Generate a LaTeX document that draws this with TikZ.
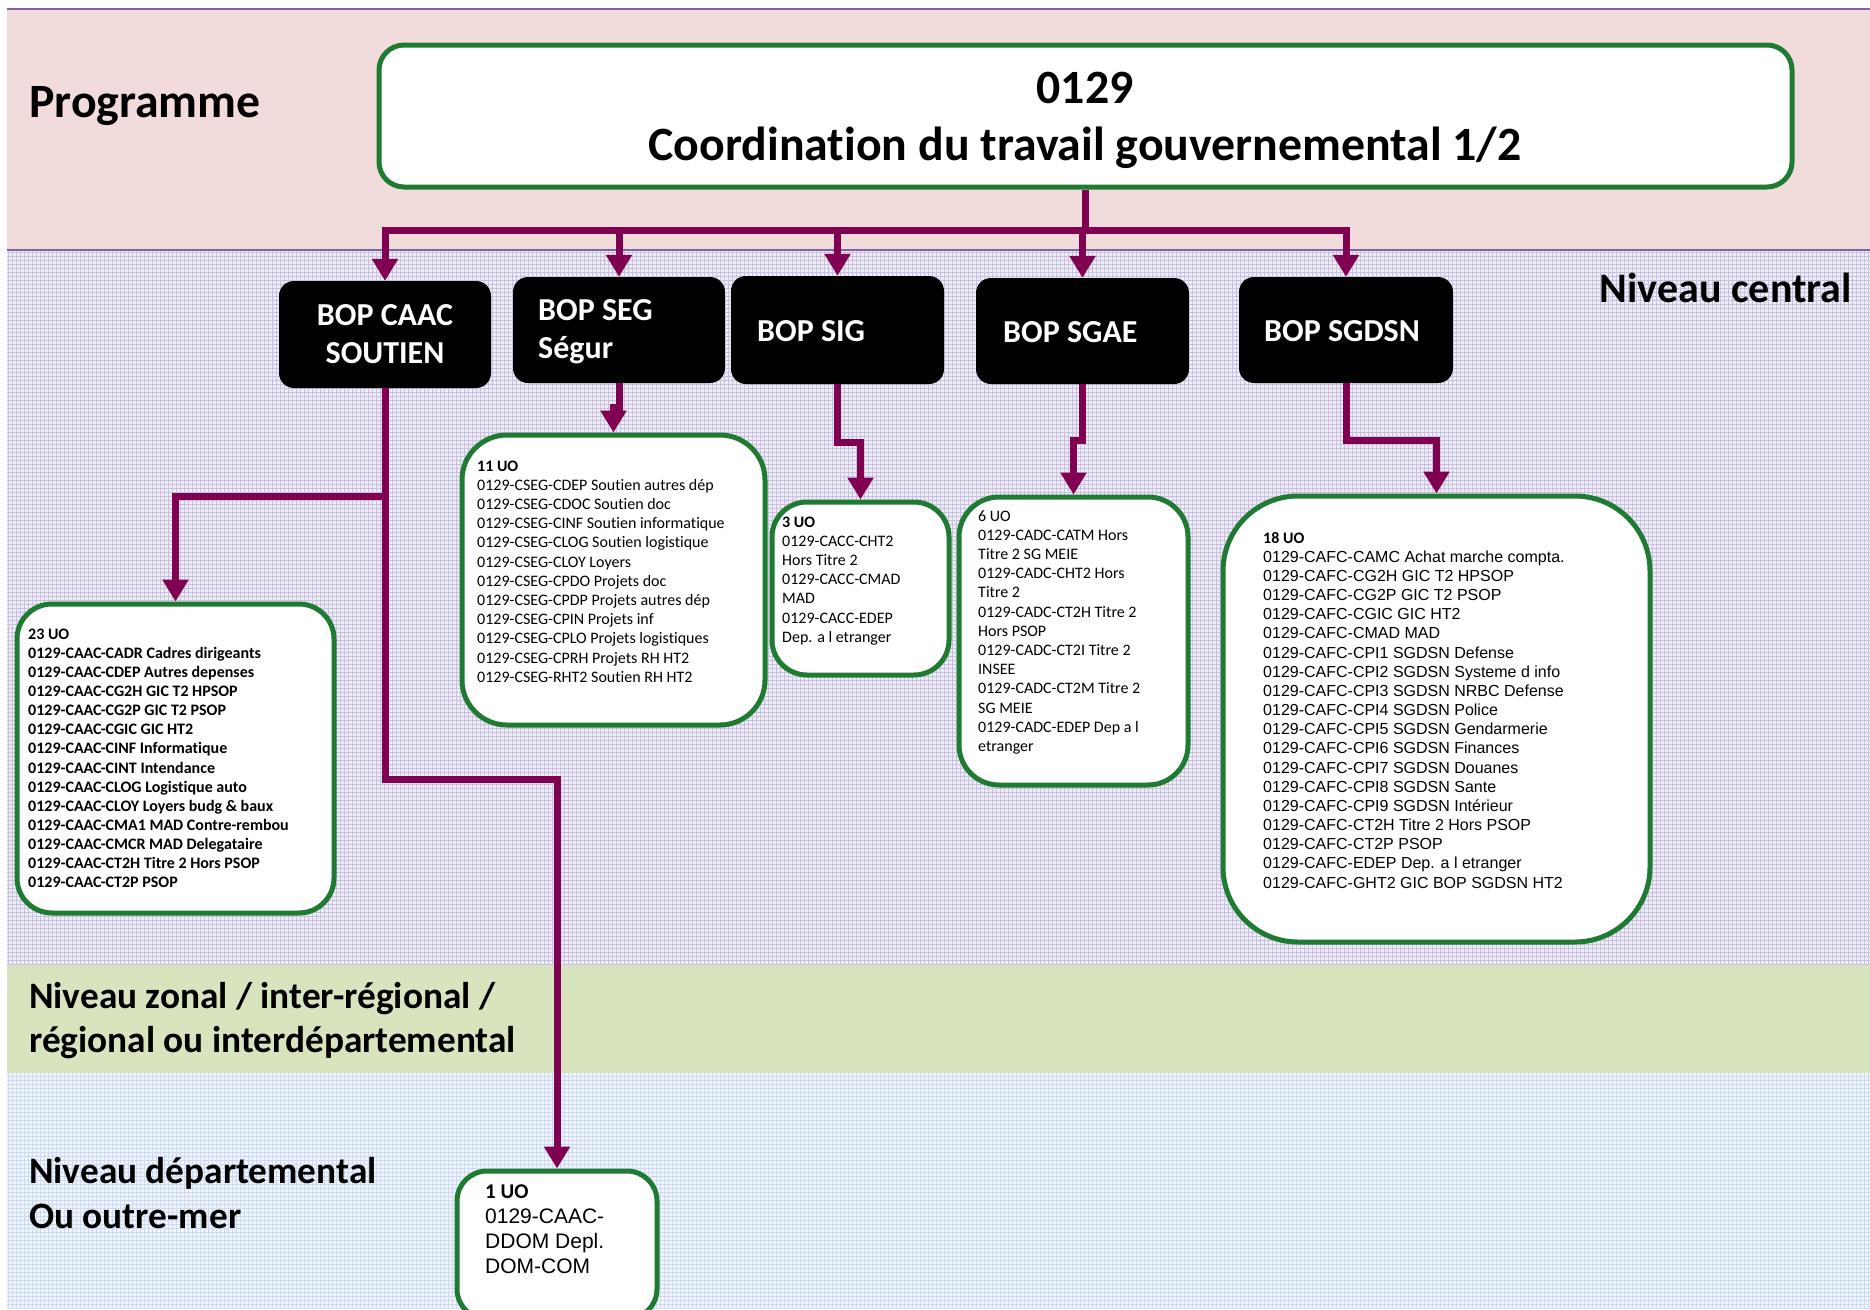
\documentclass[tikz,border=0pt]{standalone}
\usepackage{fontspec}
\setmainfont{Carlito}[Ligatures=NoCommon]
\newfontfamily\arialf{Liberation Sans}
\usetikzlibrary{arrows.meta}
\definecolor{pinkbg}{RGB}{242,220,219}
\definecolor{lavbg}{RGB}{238,236,246}
\definecolor{lavgrid}{RGB}{200,192,224}
\definecolor{greenbg}{RGB}{215,228,189}
\definecolor{bluebg}{RGB}{240,244,252}
\definecolor{bluegrid}{RGB}{205,218,242}
\definecolor{bandline}{RGB}{128,100,162}
\definecolor{connc}{RGB}{128,0,82}
\definecolor{boxgreen}{RGB}{31,122,50}
\newcommand{\myleft}[1]{\begin{tabular}[t]{@{}l@{}}#1\end{tabular}}
\newcommand{\mycenter}[1]{\begin{tabular}[t]{@{}c@{}}#1\end{tabular}}
\begin{document}
\begin{tikzpicture}[x=1pt,y=-1pt,
  conn/.style={draw=connc, line width=7pt, line join=miter, -{Triangle[width=25pt,length=22pt]}},
  bopbox/.style={rectangle, rounded corners=15pt, fill=black, draw=none, inner sep=0pt},
  uobox/.style={rectangle, draw=boxgreen, line width=5pt, fill=white, inner sep=0pt},
  lvl/.style={inner sep=0pt, anchor=base west, font=\bfseries\fontsize{37.3}{44}\selectfont},
  bopt/.style={inner sep=0pt, anchor=base west, text=white, font=\bfseries\fontsize{32}{38}\selectfont},
  uot/.style={inner sep=0pt, anchor=base west, font=\fontsize{16}{19.2}\selectfont},
  uoa/.style={inner sep=0pt, anchor=base west, font=\arialf\fontsize{16}{19.2}\selectfont}]
\useasboundingbox (0,0) rectangle (1870,1309);
\clip (0,0) rectangle (1870,1309);
% bands
\fill[white] (0,0) rectangle (1870,1309);
\fill[pinkbg] (7,9) rectangle (1870,250);
\fill[lavbg] (7,250) rectangle (1870,965);
\draw[lavgrid, line width=0.8pt] (7,250) grid[step=4pt] (1870,965);
\fill[greenbg] (7,965) rectangle (1870,1073);
\fill[bluebg] (7,1073) rectangle (1870,1309);
\draw[bluegrid, line width=0.8pt] (7,1073) grid[step=4pt] (1870,1309);
\draw[bandline, line width=2.5pt] (7,9) -- (1870,9);
\draw[bandline, line width=2.5pt] (7,250) -- (1870,250);

% level labels
\node[lvl, font=\bfseries\fontsize{47.8}{56}\selectfont] (lprog) at (29,117) {Programme};
\node[lvl, font=\bfseries\fontsize{42}{50}\selectfont, anchor=base east] (lcent) at (1852,302) {Niveau central};
\node[lvl] (lzon) at (29,1008) {\myleft{Niveau zonal / inter-régional /\\ régional ou interdépartemental}};
\node[lvl, font=\bfseries\fontsize{37.3}{45}\selectfont] (ldep) at (29,1183) {\myleft{Niveau départemental\\ Ou outre-mer}};

% programme box
\node[uobox, rounded corners=25pt, minimum width=1413pt, minimum height=142pt] (prog) at (1085.5,116) {};
\node[inner sep=0pt, anchor=base, font=\bfseries\fontsize{47.8}{57}\selectfont] (progt) at (1085,103) {\mycenter{0129\\ Coordination du travail gouvernemental 1/2}};

% BOP boxes
\node[bopbox, minimum width=212pt, minimum height=107pt] (caac) at (385,334.5) {};
\node[bopbox, minimum width=212pt, minimum height=106pt] (seg) at (619,330) {};
\node[bopbox, minimum width=213pt, minimum height=108pt] (sig) at (837.5,330) {};
\node[bopbox, minimum width=213pt, minimum height=106pt] (sgae) at (1082.5,331) {};
\node[bopbox, minimum width=214pt, minimum height=106pt] (sgdsn) at (1346,330) {};
\node[bopt, anchor=base] (caact) at (385,325) {\mycenter{BOP CAAC\\ SOUTIEN}};
\node[bopt] (segt) at (538,320) {\myleft{BOP SEG\\ Ségur}};
\node[bopt] (sigt) at (757,341) {BOP SIG};
\node[bopt] (sgaet) at (1003,342) {BOP SGAE};
\node[bopt] (sgdsnt) at (1264,341) {BOP SGDSN};

% UO boxes
\node[uobox, rounded corners=35pt, minimum width=317pt, minimum height=309pt] (u23) at (175.5,758.5) {};
\node[uobox, rounded corners=45pt, minimum width=303pt, minimum height=290pt] (u11) at (613.5,580) {};
\node[uobox, rounded corners=35pt, minimum width=177pt, minimum height=173pt] (u3) at (860.5,588.5) {};
\node[uobox, rounded corners=40pt, minimum width=229pt, minimum height=288pt] (u6) at (1073.5,641) {};
\node[uobox, rounded corners=75pt, minimum width=427pt, minimum height=446pt] (u18) at (1436.5,719) {};
\node[uobox, rounded corners=30pt, minimum width=200pt, minimum height=148pt] (u1) at (557,1245) {};

\node[uot, font=\bfseries\fontsize{16}{19.15}\selectfont] (u23t) at (28,639) {\myleft{23 UO\\
0129-CAAC-CADR Cadres dirigeants\\
0129-CAAC-CDEP Autres depenses\\
0129-CAAC-CG2H GIC T2 HPSOP\\
0129-CAAC-CG2P GIC T2 PSOP\\
0129-CAAC-CGIC GIC HT2\\
0129-CAAC-CINF Informatique\\
0129-CAAC-CINT Intendance\\
0129-CAAC-CLOG Logistique auto\\
0129-CAAC-CLOY Loyers budg \& baux\\
0129-CAAC-CMA1 MAD Contre-rembou\\
0129-CAAC-CMCR MAD Delegataire\\
0129-CAAC-CT2H Titre 2 Hors PSOP\\
0129-CAAC-CT2P PSOP}};

\node[uot] (u11t) at (477,471) {\myleft{\textbf{11 UO}\\
0129-CSEG-CDEP Soutien autres dép\\
0129-CSEG-CDOC Soutien doc\\
0129-CSEG-CINF Soutien informatique\\
0129-CSEG-CLOG Soutien logistique\\
0129-CSEG-CLOY Loyers\\
0129-CSEG-CPDO Projets doc\\
0129-CSEG-CPDP Projets autres dép\\
0129-CSEG-CPIN Projets inf\\
0129-CSEG-CPLO Projets logistiques\\
0129-CSEG-CPRH Projets RH HT2\\
0129-CSEG-RHT2 Soutien RH HT2}};

\node[uot] (u3t) at (782,527) {\myleft{\textbf{3 UO}\\
0129-CACC-CHT2\\
Hors Titre 2\\
0129-CACC-CMAD\\
MAD\\
0129-CACC-EDEP\\
Dep. a l etranger}};

\node[uot] (u6t) at (978,521) {\myleft{6 UO\\
0129-CADC-CATM Hors\\
Titre 2 SG MEIE\\
0129-CADC-CHT2 Hors\\
Titre 2\\
0129-CADC-CT2H Titre 2\\
Hors PSOP\\
0129-CADC-CT2I Titre 2\\
INSEE\\
0129-CADC-CT2M Titre 2\\
SG MEIE\\
0129-CADC-EDEP Dep a l\\
etranger}};

\node[uoa, font=\arialf\fontsize{16}{19.17}\selectfont] (u18t) at (1263,543) {\myleft{{\rmfamily\bfseries 18 UO}\\
0129-CAFC-CAMC Achat marche compta.\\
0129-CAFC-CG2H GIC T2 HPSOP\\
0129-CAFC-CG2P GIC T2 PSOP\\
0129-CAFC-CGIC GIC HT2\\
0129-CAFC-CMAD MAD\\
0129-CAFC-CPI1 SGDSN Defense\\
0129-CAFC-CPI2 SGDSN Systeme d info\\
0129-CAFC-CPI3 SGDSN NRBC Defense\\
0129-CAFC-CPI4 SGDSN Police\\
0129-CAFC-CPI5 SGDSN Gendarmerie\\
0129-CAFC-CPI6 SGDSN Finances\\
0129-CAFC-CPI7 SGDSN Douanes\\
0129-CAFC-CPI8 SGDSN Sante\\
0129-CAFC-CPI9 SGDSN Intérieur\\
0129-CAFC-CT2H Titre 2 Hors PSOP\\
0129-CAFC-CT2P PSOP\\
0129-CAFC-EDEP Dep. a l etranger\\
0129-CAFC-GHT2 GIC BOP SGDSN HT2}};

\node[uoa, font=\arialf\fontsize{21}{25}\selectfont] (u1t) at (485,1198) {\myleft{{\rmfamily\bfseries 1 UO}\\
0129-CAAC-\\
DDOM Depl.\\
DOM-COM}};

% connectors
\coordinate (bus) at (0,230);
\coordinate (ycaac1) at (0,496);
\coordinate (ycaac2) at (0,779);
\coordinate (yseg) at (0,407);
\coordinate (ysig) at (0,442);
\coordinate (ysgae) at (0,440);
\coordinate (ysgdsn) at (0,440);
\draw[conn] (prog.south) -- (prog.south |- bus) -| (caac.north);
\draw[conn] (prog.south |- bus) -| (sgdsn.north);
\draw[conn] (seg.north |- bus) -- (seg.north);
\draw[conn] (sig.north |- bus) -- (sig.north);
\draw[conn] (sgae.north |- bus) -- (sgae.north);
\draw[conn] (caac.south) -- (caac.south |- ycaac1) -| (u23.north);
\draw[conn] (caac.south) -- (caac.south |- ycaac2) -| (u1.north);
\draw[conn] (seg.south) -- (seg.south |- yseg) -| (u11.north);
\draw[conn] (sig.south) -- (sig.south |- ysig) -| (u3.north);
\draw[conn] (sgae.south) -- (sgae.south |- ysgae) -| (u6.north);
\draw[conn] (sgdsn.south) -- (sgdsn.south |- ysgdsn) -| (u18.north);
\end{tikzpicture}
\end{document}
